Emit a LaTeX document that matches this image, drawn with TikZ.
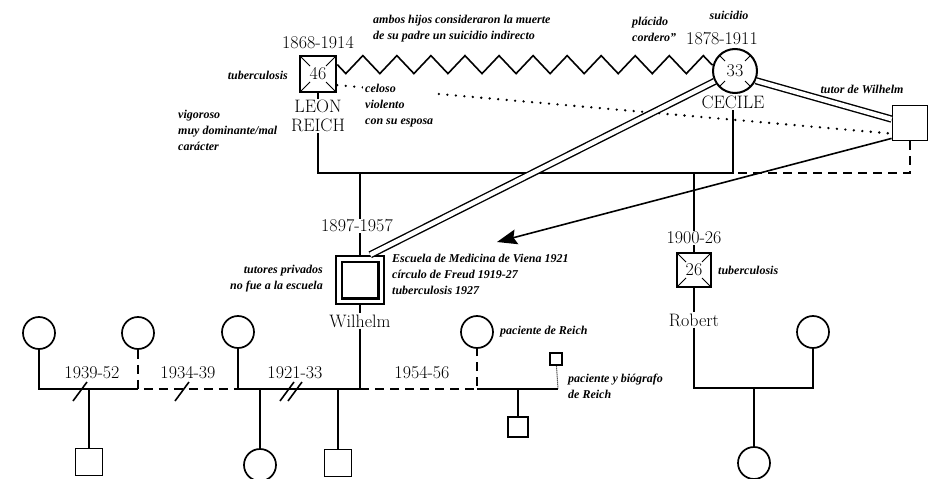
\documentclass[tikz,border=0pt]{standalone}
\usepackage{fontspec}
\newfontfamily\notefont{Liberation Serif}
\usetikzlibrary{arrows.meta,decorations.pathmorphing}

\tikzset{
  person/.style={draw,line width=1.7pt,inner sep=0pt,font=\fontsize{18}{21}\selectfont},
  male/.style={person,rectangle,minimum size=#1},
  female/.style={person,circle,minimum size=#1},
  deceased/.style={path picture={
    \draw[line width=0.8pt] (path picture bounding box.north west) -- ++(#1,-#1);
    \draw[line width=0.8pt] (path picture bounding box.north east) -- ++(-#1,-#1);
    \draw[line width=0.8pt] (path picture bounding box.south west) -- ++(#1,#1);
    \draw[line width=0.8pt] (path picture bounding box.south east) -- ++(-#1,#1);}},
  rel/.style={line width=1.6pt},
  broken/.style={line width=2.2pt,dash pattern=on 9pt off 6pt},
  dots/.style={line width=2.6pt,line cap=round,dash pattern=on 0pt off 8.5pt},
  bond/.style={line width=1.4pt,double,double distance=4.5pt},
  lbl/.style={font=\fontsize{18}{21}\selectfont,inner sep=1pt},
  note/.style={font=\notefont\fontsize{12}{16}\selectfont\bfseries\itshape,align=left,inner sep=0pt}
}

\begin{document}
\begin{tikzpicture}[x=1pt,y=-1pt,line cap=butt,line join=miter]
\useasboundingbox (0,0) rectangle (930,479);
% parents
\node[male=36pt,line width=2.6pt,deceased=10pt] (leon) at (318,74) {46};
\node[female=44pt,line width=2pt,deceased=12pt] (cec) at (735,71) {33};
\node[male=35pt] (tut) at (910,123) {};
\node[lbl] (leonyr) at (318,43) {1868-1914};
\node[lbl,align=center] (leonnm) at (318,116) {LEON\\[-2pt]REICH};
\node[lbl] (cecyr) at (722,39) {1878-1911};
\node[lbl] (cecnm) at (733,102) {CECILE};
\node[note,anchor=east] (leontb) at (288,75) {tuberculosis};
\node[note,anchor=west] (leonch) at (178,130) {vigoroso\\muy dominante/mal\\carácter};
\node[note,anchor=center] (cecsu) at (729,15) {suicidio};
\node[note,anchor=west] (cecpl) at (632,29) {plácido\\cordero”};
\node[note,anchor=west] (ambos) at (373,29) {ambos hijos consideraron la muerte\\de su padre un suicidio indirecto};
\node[note] (tutnt) at (862,89) {tutor de Wilhelm};

% children of Leon and Cecile
\node[male=42.5pt,line width=2.2pt,double,double distance=3.5pt,outer sep=3.95pt] (wil) at (360,280) {};
\node[male=34pt,line width=2.2pt,deceased=9pt] (rob) at (694,270) {26};

\coordinate (lcL) at (318,173);
\coordinate (lcR) at (733,173);
\coordinate (wtop) at (360,173);
\coordinate (rtop) at (694,173);
\coordinate (tutdn) at (910,173);
\coordinate (tip) at (497,242);

\draw[rel] (leon) -- (leonnm);
\draw[rel] (leonnm) -- (lcL) -- (lcR) -- (cecnm);
\draw[rel,decorate,decoration={zigzag,mirror,segment length=34.05pt,amplitude=9pt}] (leon.26) -- (cec.164);
\draw[dots] (leon.-30) -- (tut.-150);
\draw[broken] (tut) -- (tutdn) -- (lcR);
\draw[rel] (wtop) -- (wil);
\draw[rel] (rtop) -- (rob);
\draw[bond] (wil.68) -- (cec.207);
\draw[bond] (cec.-25) -- (tut.168);
\draw[rel,-{Stealth[length=20pt,width=15pt,inset=3pt]}] (tut.-140) -- (tip);

\node[note,anchor=west,fill=white,inner sep=2pt] (leonvi) at (363,106) {celoso\\violento\\con su esposa};
\node[lbl,fill=white] (wilyr) at (357,226) {1897-1957};
\node[lbl,fill=white] (robyr) at (694,238) {1900-26};
\node[lbl] (wilnm) at (360,321) {Wilhelm};
\node[lbl] (robnm) at (694,320) {Robert};
\node[note,anchor=east,align=right] (wilpr) at (323,279) {tutores privados\\no fue a la escuela};
\node[note,anchor=west] (wilvi) at (392,274) {Escuela de Medicina de Viena 1921\\círculo de Freud 1919-27\\tuberculosis 1927};
\node[note,anchor=west] (robtb) at (718,270) {tuberculosis};

\draw[rel] (wil) -- (wilnm);
\draw[rel] (rob) -- (robnm);

% Wilhelm's partners and children
\node[female=32pt] (wA) at (39,333) {};
\node[female=32pt] (wB) at (138,333) {};
\node[female=32pt] (wC) at (238,332) {};
\node[female=32pt] (wF) at (477,332) {};
\node[male=12pt,line width=1.2pt] (wG) at (556,359) {};
\node[male=27pt] (kAB) at (89,462) {};
\node[female=32pt] (kC1) at (260,465) {};
\node[male=27pt] (kC2) at (338,463) {};
\node[male=20pt] (kFG) at (518,427) {};
\node[note,anchor=west] (wFnt) at (500,332) {paciente de Reich};
\node[note,anchor=west] (wGnt) at (568,386) {paciente y biógrafo\\de Reich};

\coordinate (mA) at (39,389);
\coordinate (mB) at (138,389);
\coordinate (mC) at (238,389);
\coordinate (mW) at (360,389);
\coordinate (mF) at (477,389);
\coordinate (mG) at (558,389);
\coordinate (cAB) at (89,389);
\coordinate (cC1) at (260,389);
\coordinate (cC2) at (338,389);
\coordinate (cFG) at (518,389);

\draw[rel] (wA) -- (mA) -- (mB);
\draw[broken] (wB) -- (mB) -- (mC);
\draw[rel] (wC) -- (mC) -- (mW);
\draw[rel] (wilnm) -- (mW);
\draw[broken] (mW) -- (mF) -- (wF);
\draw[rel] (mF) -- (mG);
\draw[line width=1pt,densely dotted] (wG) -- (mG);
\draw[rel] (cAB) -- (kAB);
\draw[rel] (cC1) -- (kC1);
\draw[rel] (cC2) -- (kC2);
\draw[rel] (cFG) -- (kFG);
\foreach \sx in {80,182,287,295}
  \draw[rel] (\sx-7,401) -- (\sx+7,382);

\node[lbl] (y1) at (92,373) {1939-52};
\node[lbl] (y2) at (188,373) {1934-39};
\node[lbl] (y3) at (295,373) {1921-33};
\node[lbl] (y4) at (422,373) {1954-56};

% Robert's family
\node[female=32pt] (rI) at (813,332) {};
\node[female=32pt] (kR) at (754,463) {};
\coordinate (mR) at (694,388);
\coordinate (mI) at (813,388);
\coordinate (cRI) at (754,388);
\draw[rel] (robnm) -- (mR) -- (mI) -- (rI);
\draw[rel] (cRI) -- (kR);
\end{tikzpicture}
\end{document}
